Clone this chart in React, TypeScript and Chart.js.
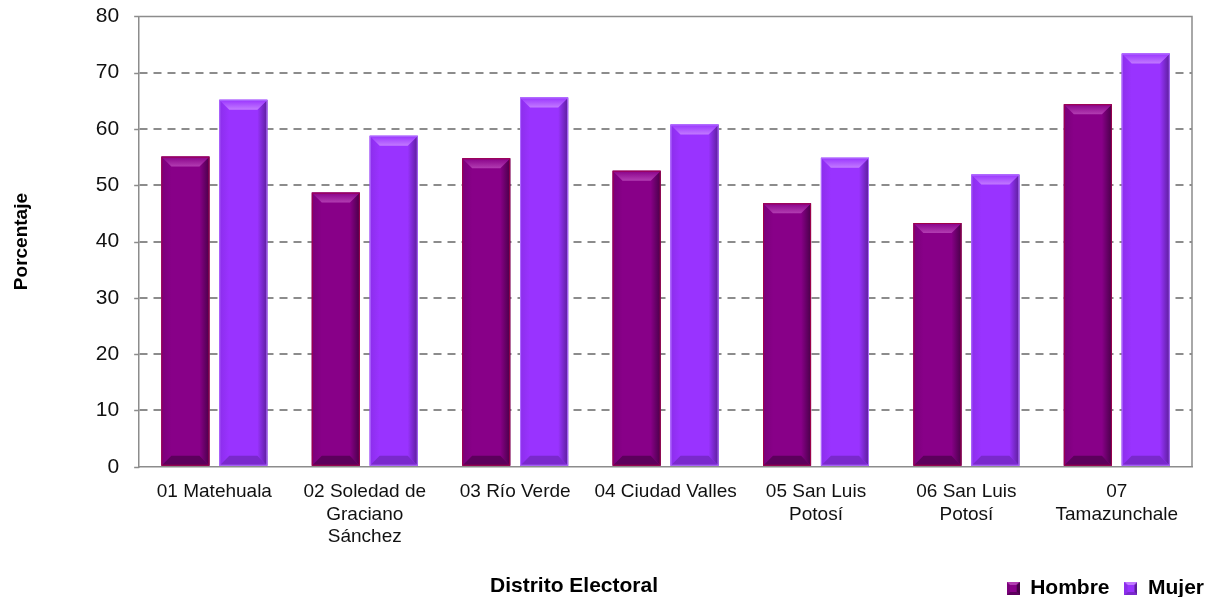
import React, { useEffect, useRef } from "react";
import { Chart, registerables } from "chart.js";

Chart.register(...registerables);

const categories: string[][] = [
  ["01 Matehuala"],
  ["02 Soledad de", "Graciano", "Sánchez"],
  ["03 Río Verde"],
  ["04 Ciudad Valles"],
  ["05 San Luis", "Potosí"],
  ["06 San Luis", "Potosí"],
  ["07", "Tamazunchale"],
];
const hombre: number[] = [55.1, 48.7, 54.8, 52.6, 46.8, 43.3, 64.4];
const mujer: number[] = [65.2, 58.8, 65.6, 60.8, 54.9, 51.9, 73.4];
const seriesNames: string[] = ["Hombre", "Mujer"];
const yTicksMax = 80;
const yTicksStep = 10;
const xTitle = "Distrito Electoral";
const yTitle = "Porcentaje";

const FONT = "'Liberation Sans', Arial, sans-serif";
const AXIS_GREY = "#8c8c8c";

type Palette = { base: string; top: string; left: string; right: string; bottom: string; edge: string };
const palettes: Palette[] = [
  { base: "#880088", top: "#B23DB2", left: "#7A007A", right: "#480048", bottom: "#5C005C", edge: "#A0004A" },
  { base: "#9933FF", top: "#C27AFF", left: "#8C2EEB", right: "#5B1E99", bottom: "#7A29CC", edge: "#B070FF" },
];

function makeLegendIcon(p: Palette): HTMLCanvasElement {
  const c = document.createElement("canvas");
  c.width = 13;
  c.height = 13;
  const g = c.getContext("2d")!;
  const s = 13, b = 3;
  g.fillStyle = p.base;
  g.fillRect(0, 0, s, s);
  const poly = (pts: number[][], col: string) => {
    g.fillStyle = col;
    g.beginPath();
    g.moveTo(pts[0][0], pts[0][1]);
    for (let i = 1; i < pts.length; i++) g.lineTo(pts[i][0], pts[i][1]);
    g.closePath();
    g.fill();
  };
  poly([[0, 0], [s, 0], [s - b, b], [b, b]], p.top);
  poly([[s, 0], [s, s], [s - b, s - b], [s - b, b]], p.right);
  poly([[0, s], [s, s], [s - b, s - b], [b, s - b]], p.bottom);
  poly([[0, 0], [0, s], [b, s - b], [b, b]], p.left);
  return c;
}

const bevelPlugin = {
  id: "bevel",
  afterDatasetsDraw(chart: any) {
    const ctx = chart.ctx as CanvasRenderingContext2D;
    chart.data.datasets.forEach((_ds: any, di: number) => {
      const meta = chart.getDatasetMeta(di);
      const p = palettes[di];
      meta.data.forEach((bar: any) => {
        const { x, y, width, base } = bar.getProps(["x", "y", "width", "base"], true);
        const l = x - width / 2, r = x + width / 2, t = Math.min(y, base), bt = Math.max(y, base);
        const b = Math.min(10, (bt - t) / 2);
        const poly = (pts: number[][], col: string | CanvasGradient) => {
          ctx.fillStyle = col;
          ctx.beginPath();
          ctx.moveTo(pts[0][0], pts[0][1]);
          for (let i = 1; i < pts.length; i++) ctx.lineTo(pts[i][0], pts[i][1]);
          ctx.closePath();
          ctx.fill();
        };
        ctx.save();
        const gr = ctx.createLinearGradient(r - b, 0, r, 0);
        gr.addColorStop(0, p.base);
        gr.addColorStop(1, p.right);
        poly([[r, t], [r, bt], [r - b, bt - b], [r - b, t + b]], gr);
        const gl = ctx.createLinearGradient(l, 0, l + b, 0);
        gl.addColorStop(0, p.left);
        gl.addColorStop(1, p.base);
        poly([[l, t], [l, bt], [l + b, bt - b], [l + b, t + b]], gl);
        poly([[l, bt], [r, bt], [r - b, bt - b], [l + b, bt - b]], p.bottom);
        const gt = ctx.createLinearGradient(0, t, 0, t + b);
        gt.addColorStop(0, p.base);
        gt.addColorStop(1, p.top);
        poly([[l, t], [r, t], [r - b, t + b], [l + b, t + b]], gt);
        ctx.strokeStyle = p.edge;
        ctx.lineWidth = 1;
        ctx.strokeRect(l + 0.5, t + 0.5, width - 1, bt - t - 1);
        ctx.restore();
      });
    });
  },
};

const framePlugin = {
  id: "frame",
  beforeDatasetsDraw(chart: any) {
    const { ctx, chartArea } = chart;
    ctx.save();
    ctx.strokeStyle = AXIS_GREY;
    ctx.lineWidth = 1.5;
    ctx.beginPath();
    ctx.moveTo(chartArea.left, chartArea.top);
    ctx.lineTo(chartArea.right, chartArea.top);
    ctx.lineTo(chartArea.right, chartArea.bottom);
    ctx.stroke();
    const ys = chart.scales.y;
    ys.ticks.forEach((t: any) => {
      const py = Math.round(ys.getPixelForValue(t.value)) + 0.5;
      ctx.beginPath();
      ctx.moveTo(chartArea.left - 5, py);
      ctx.lineTo(chartArea.left, py);
      ctx.stroke();
    });
    ctx.restore();
  },
  afterDraw(chart: any) {
    const { ctx, chartArea, legend } = chart;
    const yc = legend ? legend.top + legend.height / 2 : chart.height - 12;
    ctx.save();
    ctx.font = `bold 21px ${FONT}`;
    ctx.fillStyle = "#000";
    ctx.textAlign = "center";
    ctx.textBaseline = "middle";
    ctx.fillText(xTitle, chartArea.left + chartArea.width * 0.413, yc);
    ctx.restore();
  },
};

export default function App() {
  const ref = useRef<HTMLCanvasElement | null>(null);
  useEffect(() => {
    if (!ref.current) return;
    const icons = palettes.map(makeLegendIcon);
    const chart = new Chart(ref.current, {
      type: "bar",
      data: {
        labels: categories,
        datasets: [
          { label: seriesNames[0], data: hombre, backgroundColor: palettes[0].base, categoryPercentage: 0.77, barPercentage: 0.83 },
          { label: seriesNames[1], data: mujer, backgroundColor: palettes[1].base, categoryPercentage: 0.77, barPercentage: 0.83 },
        ],
      },
      options: {
        animation: false,
        responsive: false,
        layout: { padding: { top: 0, right: -9, bottom: -4, left: 2 } },
        plugins: {
          tooltip: { enabled: false },
          legend: {
            position: "bottom",
            align: "end",
            labels: {
              usePointStyle: true,
              generateLabels: (ch: any) =>
                ch.data.datasets.map((d: any, i: number) => ({
                  text: d.label,
                  pointStyle: icons[i],
                  fillStyle: palettes[i].base,
                  strokeStyle: palettes[i].base,
                  lineWidth: 0,
                  hidden: false,
                  datasetIndex: i,
                })),
              font: { family: FONT, size: 21, weight: "bold" },
              color: "#000",
              padding: 15,
              boxWidth: 13,
              boxHeight: 13,
            },
          },
        },
        scales: {
          x: {
            grid: { display: false },
            border: { display: true, color: AXIS_GREY, width: 1.5 },
            ticks: { font: { family: FONT, size: 19, lineHeight: 1.18 }, color: "#111", maxRotation: 0, autoSkip: false, padding: 6 },
            afterFit: (s: any) => {
              s.height = s.height + 9;
            },
          },
          y: {
            min: 0,
            max: yTicksMax,
            ticks: { stepSize: yTicksStep, font: { family: FONT, size: 21, lineHeight: 0.8 }, color: "#111", padding: 0 },
            grid: {
              color: (c: any) => (c.tick && (c.tick.value === 0 || c.tick.value === yTicksMax) ? "rgba(0,0,0,0)" : AXIS_GREY),
              lineWidth: 2,
              tickColor: "rgba(0,0,0,0)",
              tickLength: 20,
            },
            border: { display: true, color: AXIS_GREY, width: 1.5, dash: [8, 6] },
            title: { display: true, text: yTitle, font: { family: FONT, size: 19, weight: "bold" }, color: "#000", padding: { top: 0, bottom: 63 } },
          },
          yRight: {
            position: "right",
            display: true,
            min: 0,
            max: yTicksMax,
            grid: { display: false, drawTicks: false },
            border: { display: false },
            ticks: { display: false },
            afterFit: (s: any) => {
              s.width = 27;
            },
          },
        },
      },
      plugins: [bevelPlugin, framePlugin],
    } as any);
    return () => chart.destroy();
  }, []);
  return (
    <div style={{ width: 1202, height: 589, position: "relative" }}>
      <canvas ref={ref} width={1202} height={597} style={{ display: "block", position: "absolute", left: 0, top: 0 }} />
    </div>
  );
}
